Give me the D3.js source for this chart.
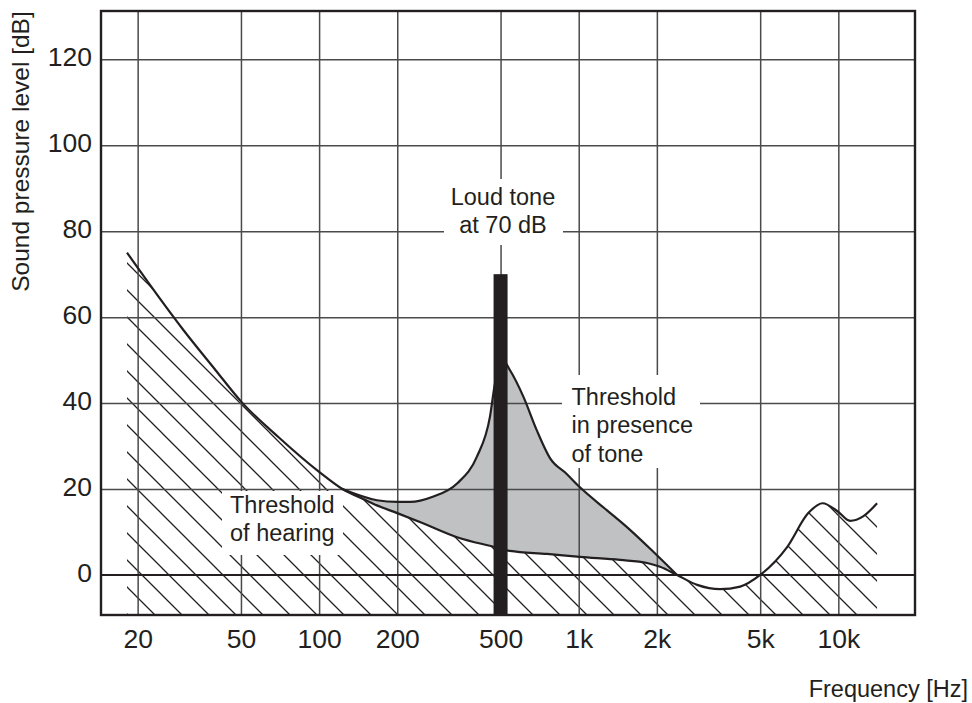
<!DOCTYPE html>
<html>
<head>
<meta charset="utf-8">
<script src="https://cdn.jsdelivr.net/npm/d3@7"></script>
<style>
  body { margin: 0; background: #fff; }
  svg text { font-family: "Liberation Sans", Arial, sans-serif; fill: #231f20; }
</style>
</head>
<body>
<svg id="chart" width="972" height="703"></svg>
<script>
// axis ticks
const xTicks = [20, 50, 100, 200, 500, 1000, 2000, 5000, 10000];
const xTickLabels = ["20", "50", "100", "200", "500", "1k", "2k", "5k", "10k"];
const yTicks = [0, 20, 40, 60, 80, 100, 120];

// threshold of hearing (Hz, dB)
const quietFreq = [18.2, 20, 30, 40, 50, 70, 100, 123, 150, 167, 200, 250, 340, 476, 543, 755, 1012, 1442, 1835, 2058, 2392, 2860, 3500, 4190, 5000, 6350, 7660, 8700, 9900, 11100, 12500, 14100];
const quietDb = [75, 71.5, 57, 47.6, 40.4, 32, 24, 20, 17.5, 16.2, 14.4, 12.1, 8.8, 6.5, 5.6, 4.9, 4.2, 3.5, 2.8, 1.9, 0, -2.3, -3.3, -2.7, 0, 6.5, 14.4, 16.7, 14.9, 12.6, 13.7, 16.7];

// threshold in presence of the tone (Hz, dB)
const maskFreq = [123, 167, 200, 224, 274, 340, 405, 455, 476, 510, 543, 612, 689, 775, 899, 1011, 1282, 1576, 1938, 2392];
const maskDb = [20, 17.4, 17, 17, 18.2, 21.3, 27.5, 36.8, 44.6, 50, 47.7, 41.5, 33.7, 27.2, 23.5, 20.4, 15.1, 10.5, 5.4, 0];

// the loud tone
const toneFreq = 500;
const toneDb = 70;

const width = 972, height = 703;
const plotLeft = 101, plotRight = 915, plotTop = 11, plotBottom = 615;
const ink = "#231f20";

const svg = d3.select("#chart");
svg.append("rect").attr("width", width).attr("height", height).attr("fill", "#fff");

const x = d3.scaleLog().domain([14.45, 19740]).range([plotLeft, plotRight]);
const y = d3.scaleLinear().domain([-9.31, 131.24]).range([plotBottom, plotTop]);

const quiet = quietFreq.map((f, i) => ({ f: f, db: quietDb[i] }));
const masked = maskFreq.map((f, i) => ({ f: f, db: maskDb[i] }));

const curve = d3.curveMonotoneX;
const line = d3.line().x(d => x(d.f)).y(d => y(d.db)).curve(curve);
const below = d3.area().x(d => x(d.f)).y0(plotBottom).y1(d => y(d.db)).curve(curve);
const above = d3.area().x(d => x(d.f)).y0(plotTop).y1(d => y(d.db)).curve(curve);

const defs = svg.append("defs");
const pat = defs.append("pattern")
    .attr("id", "hatch")
    .attr("patternUnits", "userSpaceOnUse")
    .attr("width", 27)
    .attr("height", 27)
    .attr("y", 1);
pat.append("path")
    .attr("d", "M-3,-3L30,30M-3,24L3,30M24,-3L30,3")
    .attr("stroke", ink)
    .attr("stroke-width", 1.3);

defs.append("clipPath").attr("id", "aboveQuiet")
    .append("path").attr("d", above(quiet));

// hatched area below the threshold of hearing
svg.append("path")
    .attr("d", below(quiet))
    .attr("fill", "url(#hatch)");

// grey area between the two thresholds
svg.append("path")
    .attr("d", below(masked))
    .attr("fill", "#bfc1c3")
    .attr("clip-path", "url(#aboveQuiet)");

// grid
const gx = svg.append("g")
    .attr("transform", `translate(0,${plotBottom})`)
    .call(d3.axisBottom(x).tickValues(xTicks).tickSize(-(plotBottom - plotTop)).tickFormat(""));
gx.select(".domain").remove();
gx.selectAll("line").attr("stroke", "#4a4a4a").attr("stroke-width", 1.5);

const gy = svg.append("g")
    .attr("transform", `translate(${plotLeft},0)`)
    .call(d3.axisLeft(y).tickValues(yTicks.filter(d => d !== 0)).tickSize(-(plotRight - plotLeft)).tickFormat(""));
gy.select(".domain").remove();
gy.selectAll("line").attr("stroke", "#4a4a4a").attr("stroke-width", 1.5);

// zero line
svg.append("line")
    .attr("x1", plotLeft).attr("x2", plotRight)
    .attr("y1", y(0)).attr("y2", y(0))
    .attr("stroke", ink)
    .attr("stroke-width", 2.2);

// labels with white boxes
const labels = [
    { box: [444, 179, 119, 66], x: 503, anchor: "middle", lines: ["Loud tone", "at 70 dB"], base: 205 },
    { box: [562, 375, 138, 93], x: 571.5, anchor: "start", lines: ["Threshold", "in presence", "of tone"], base: 405 },
    { box: [222, 491, 121, 64], x: 230, anchor: "start", lines: ["Threshold", "of hearing"], base: 512.5 }
];
labels.forEach(l => {
    svg.append("rect")
        .attr("x", l.box[0]).attr("y", l.box[1])
        .attr("width", l.box[2]).attr("height", l.box[3])
        .attr("fill", "#fff");
    const t = svg.append("text")
        .attr("text-anchor", l.anchor)
        .style("font-size", "23.5px");
    l.lines.forEach((s, i) => {
        t.append("tspan").attr("x", l.x).attr("y", l.base + i * 28.3).text(s);
    });
});

// curves
svg.append("path")
    .attr("d", line(quiet))
    .attr("fill", "none")
    .attr("stroke", ink)
    .attr("stroke-width", 2.2);
svg.append("path")
    .attr("d", line(masked))
    .attr("fill", "none")
    .attr("stroke", ink)
    .attr("stroke-width", 2.2);

// tone bar
svg.append("rect")
    .attr("x", x(toneFreq) - 7)
    .attr("width", 14)
    .attr("y", y(toneDb))
    .attr("height", plotBottom - y(toneDb))
    .attr("fill", ink);

// frame
svg.append("rect")
    .attr("x", plotLeft).attr("y", plotTop)
    .attr("width", plotRight - plotLeft).attr("height", plotBottom - plotTop)
    .attr("fill", "none")
    .attr("stroke", ink)
    .attr("stroke-width", 2.4);

// tick labels
const ax = svg.append("g")
    .attr("transform", `translate(0,${plotBottom})`)
    .call(d3.axisBottom(x).tickValues(xTicks).tickSize(0).tickPadding(14.5)
        .tickFormat((d, i) => xTickLabels[i]));
ax.select(".domain").remove();
ax.selectAll("text").style("font-size", "26.5px").style("font-family", "Liberation Sans, Arial, sans-serif").attr("fill", ink);

const ay = svg.append("g")
    .attr("transform", `translate(${plotLeft},0)`)
    .call(d3.axisLeft(y).tickValues(yTicks).tickSize(0).tickPadding(9));
ay.select(".domain").remove();
ay.selectAll("text").attr("dy", "0.23em").style("font-size", "26.5px").style("font-family", "Liberation Sans, Arial, sans-serif").attr("fill", ink);

// axis titles
svg.append("text")
    .attr("transform", "translate(28.5,151.5) rotate(-90)")
    .attr("text-anchor", "middle")
    .style("font-size", "24.5px")
    .text("Sound pressure level [dB]");

svg.append("text")
    .attr("x", 968)
    .attr("y", 697)
    .attr("text-anchor", "end")
    .style("font-size", "23.5px")
    .text("Frequency [Hz]");
</script>
</body>
</html>
